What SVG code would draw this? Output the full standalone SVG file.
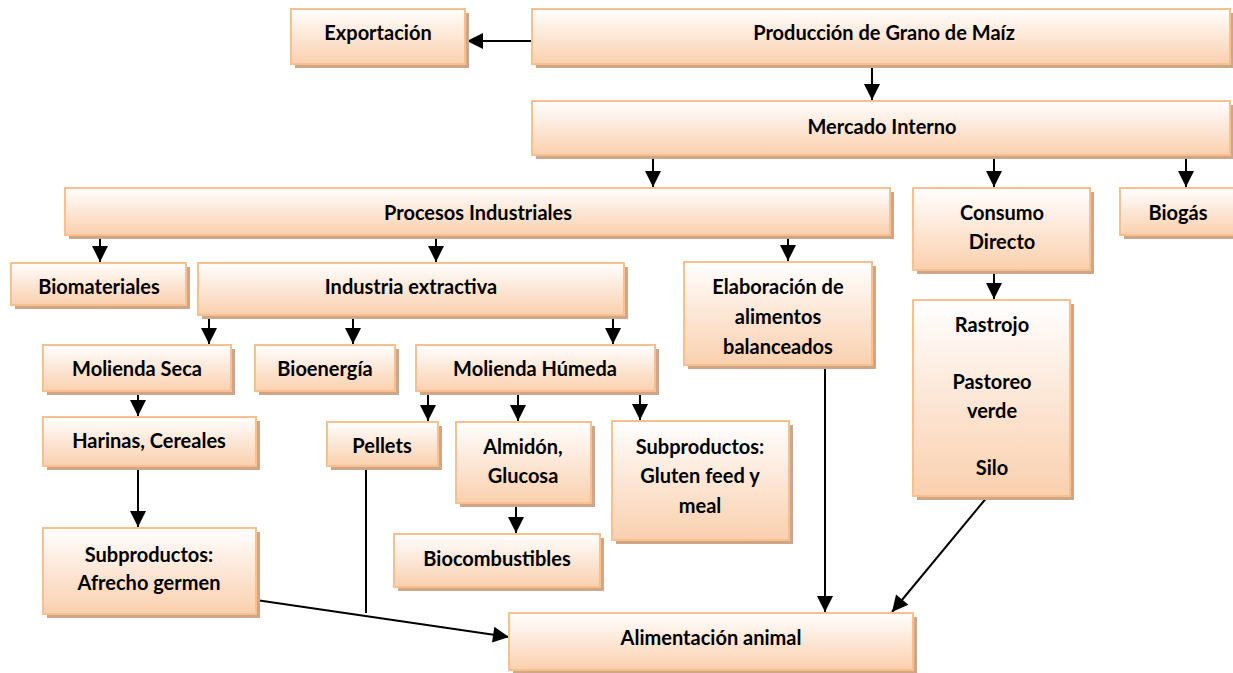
<svg xmlns="http://www.w3.org/2000/svg" width="1233" height="673" viewBox="0 0 1233 673">
  <defs>
    <linearGradient id="peach" x1="0" y1="0" x2="0" y2="1">
      <stop offset="0" stop-color="#FFFFFF"/>
      <stop offset="0.45" stop-color="#FDE9DA"/>
      <stop offset="1" stop-color="#FAD0AE"/>
    </linearGradient>
    <marker id="arr" viewBox="0 0 10 10" refX="10" refY="5" markerWidth="9" markerHeight="8" orient="auto" markerUnits="strokeWidth">
      <path d="M0,0 L10,5 L0,10 Z" fill="#000"/>
    </marker>
  </defs>
  <style>
    .shadow { fill: #CFA687; }
    .box { fill: url(#peach); stroke: #F9C08F; stroke-width: 2; }
    .lbl { font-family: Lato, "Liberation Sans", sans-serif; font-weight: bold; font-size: 20px; fill: #000; text-anchor: middle; dominant-baseline: central; }
    .conn { stroke: #000; stroke-width: 2; fill: none; }
    .conn-a { stroke: #000; stroke-width: 2; fill: none; marker-end: url(#arr); }
  </style>
  <rect width="1233" height="673" fill="#FFFFFF"/>

  <!-- connectors -->
  <g id="connectors">
    <line class="conn-a" x1="532" y1="41" x2="467" y2="41"/>
    <line class="conn-a" x1="872" y1="64" x2="872" y2="100"/>
    <line class="conn-a" x1="653" y1="157" x2="653" y2="187"/>
    <line class="conn-a" x1="994" y1="157" x2="994" y2="187"/>
    <line class="conn-a" x1="1186" y1="157" x2="1186" y2="187"/>
    <line class="conn-a" x1="100" y1="236" x2="100" y2="262"/>
    <line class="conn-a" x1="436" y1="236" x2="436" y2="262"/>
    <line class="conn-a" x1="788" y1="236" x2="788" y2="261"/>
    <line class="conn-a" x1="209" y1="316" x2="209" y2="344"/>
    <line class="conn-a" x1="353" y1="316" x2="353" y2="344"/>
    <line class="conn-a" x1="613" y1="316" x2="613" y2="344"/>
    <line class="conn-a" x1="994" y1="271" x2="994" y2="299"/>
    <line class="conn-a" x1="138" y1="392" x2="138" y2="416"/>
    <line class="conn-a" x1="428" y1="392" x2="428" y2="421"/>
    <line class="conn-a" x1="518" y1="392" x2="518" y2="421"/>
    <line class="conn-a" x1="640" y1="392" x2="640" y2="420"/>
    <line class="conn-a" x1="138" y1="467" x2="138" y2="527"/>
    <line class="conn-a" x1="516" y1="504" x2="516" y2="533"/>
    <line class="conn" x1="366" y1="467" x2="366" y2="613" stroke-width="1.6"/>
    <line class="conn-a" x1="256" y1="600" x2="509" y2="637"/>
    <line class="conn-a" x1="825" y1="366" x2="825" y2="612"/>
    <line class="conn-a" x1="988" y1="496" x2="892" y2="612"/>
  </g>

  <!-- nodes -->
  <g id="exportacion">
    <rect class="shadow" x="295" y="13" width="174" height="55"/>
    <rect class="box" x="291" y="9" width="174" height="55"/>
    <text class="lbl" x="378" y="32">Exportación</text>
  </g>
  <g id="produccion">
    <rect class="shadow" x="536" y="13" width="698" height="55"/>
    <rect class="box" x="532" y="9" width="698" height="55"/>
    <text class="lbl" x="884" y="32">Producción de Grano de Maíz</text>
  </g>
  <g id="mercado-interno">
    <rect class="shadow" x="536" y="105" width="698" height="54"/>
    <rect class="box" x="532" y="101" width="698" height="54"/>
    <text class="lbl" x="882" y="126">Mercado Interno</text>
  </g>
  <g id="procesos-industriales">
    <rect class="shadow" x="69" y="192" width="825" height="47"/>
    <rect class="box" x="65" y="188" width="825" height="47"/>
    <text class="lbl" x="478" y="212">Procesos Industriales</text>
  </g>
  <g id="consumo-directo">
    <rect class="shadow" x="917" y="192" width="177" height="82"/>
    <rect class="box" x="913" y="188" width="177" height="82"/>
    <text class="lbl" x="1002" y="212">Consumo</text>
    <text class="lbl" x="1002" y="241">Directo</text>
  </g>
  <g id="biogas">
    <rect class="shadow" x="1124" y="192" width="116" height="47"/>
    <rect class="box" x="1120" y="188" width="116" height="47"/>
    <text class="lbl" x="1178" y="212">Biogás</text>
  </g>
  <g id="biomateriales">
    <rect class="shadow" x="15" y="267" width="175" height="42"/>
    <rect class="box" x="11" y="263" width="175" height="42"/>
    <text class="lbl" x="99" y="286">Biomateriales</text>
  </g>
  <g id="industria-extractiva">
    <rect class="shadow" x="202" y="267" width="426" height="52"/>
    <rect class="box" x="198" y="263" width="426" height="52"/>
    <text class="lbl" x="411" y="286">Industria extractiva</text>
  </g>
  <g id="elaboracion">
    <rect class="shadow" x="688" y="266" width="188" height="103"/>
    <rect class="box" x="684" y="262" width="188" height="103"/>
    <text class="lbl" x="778" y="286">Elaboración de</text>
    <text class="lbl" x="778" y="316">alimentos</text>
    <text class="lbl" x="778" y="346">balanceados</text>
  </g>
  <g id="molienda-seca">
    <rect class="shadow" x="47" y="349" width="188" height="46"/>
    <rect class="box" x="43" y="345" width="188" height="46"/>
    <text class="lbl" x="137" y="368">Molienda Seca</text>
  </g>
  <g id="bioenergia">
    <rect class="shadow" x="259" y="349" width="140" height="46"/>
    <rect class="box" x="255" y="345" width="140" height="46"/>
    <text class="lbl" x="325" y="368">Bioenergía</text>
  </g>
  <g id="molienda-humeda">
    <rect class="shadow" x="420" y="349" width="239" height="46"/>
    <rect class="box" x="416" y="345" width="239" height="46"/>
    <text class="lbl" x="535" y="368">Molienda Húmeda</text>
  </g>
  <g id="rastrojo">
    <rect class="shadow" x="917" y="304" width="157" height="196"/>
    <rect class="box" x="913" y="300" width="157" height="196"/>
    <text class="lbl" x="992" y="324">Rastrojo</text>
    <text class="lbl" x="992" y="381">Pastoreo</text>
    <text class="lbl" x="992" y="410">verde</text>
    <text class="lbl" x="992" y="467">Silo</text>
  </g>
  <g id="harinas-cereales">
    <rect class="shadow" x="47" y="421" width="213" height="49"/>
    <rect class="box" x="43" y="417" width="213" height="49"/>
    <text class="lbl" x="149" y="440">Harinas, Cereales</text>
  </g>
  <g id="pellets">
    <rect class="shadow" x="331" y="426" width="111" height="44"/>
    <rect class="box" x="327" y="422" width="111" height="44"/>
    <text class="lbl" x="382" y="445">Pellets</text>
  </g>
  <g id="almidon-glucosa">
    <rect class="shadow" x="460" y="426" width="135" height="81"/>
    <rect class="box" x="456" y="422" width="135" height="81"/>
    <text class="lbl" x="523" y="446">Almidón,</text>
    <text class="lbl" x="523" y="475">Glucosa</text>
  </g>
  <g id="subproductos-gluten">
    <rect class="shadow" x="616" y="425" width="177" height="119"/>
    <rect class="box" x="612" y="421" width="177" height="119"/>
    <text class="lbl" x="700" y="446">Subproductos:</text>
    <text class="lbl" x="700" y="475">Gluten feed y</text>
    <text class="lbl" x="700" y="505">meal</text>
  </g>
  <g id="biocombustibles">
    <rect class="shadow" x="398" y="538" width="206" height="53"/>
    <rect class="box" x="394" y="534" width="206" height="53"/>
    <text class="lbl" x="497" y="558">Biocombustibles</text>
  </g>
  <g id="subproductos-afrecho">
    <rect class="shadow" x="47" y="532" width="213" height="86"/>
    <rect class="box" x="43" y="528" width="213" height="86"/>
    <text class="lbl" x="149" y="554">Subproductos:</text>
    <text class="lbl" x="149" y="582">Afrecho germen</text>
  </g>
  <g id="alimentacion-animal">
    <rect class="shadow" x="513" y="617" width="404" height="57"/>
    <rect class="box" x="509" y="613" width="404" height="57"/>
    <text class="lbl" x="711" y="637">Alimentación animal</text>
  </g>
</svg>
